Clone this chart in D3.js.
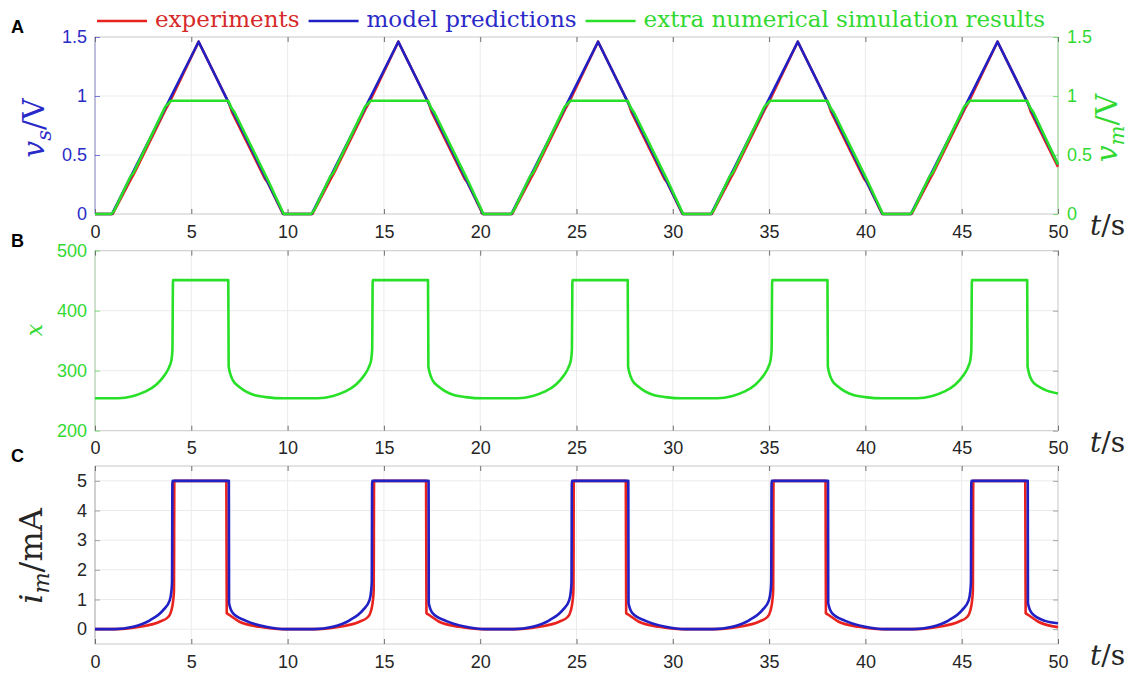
<!DOCTYPE html>
<html>
<head>
<meta charset="utf-8">
<script src="https://cdn.jsdelivr.net/npm/d3@7"></script>
<style>
  body { margin: 0; background: #fff; }
  .tick text { font-family: "Liberation Sans", Arial, sans-serif; font-size: 18px; }
</style>
</head>
<body>
<div id="chart"></div>
<script>
// ---- data ----
const tTicks = [0, 5, 10, 15, 20, 25, 30, 35, 40, 45, 50];
const vTicks = [0, 0.5, 1, 1.5];
const vTickLabels = ["0", "0.5", "1", "1.5"];
const xTicks = [200, 300, 400, 500];
const iTicks = [0, 1, 2, 3, 4, 5];

const legendLabels = ["experiments", "model predictions", "extra numerical simulation results"];

// panel A: v_s (model), v_s (experiment), v_m (simulation)  [t, volts]
const vsModel = [[0,0],[0.88,0],[5.38,1.46],[9.78,0],[11.25,0],[15.75,1.46],[20.15,0],[21.62,0],[26.12,1.46],
  [30.52,0],[31.99,0],[36.49,1.46],[40.89,0],[42.36,0],[46.86,1.46],[50,0.42]];

const vsExp = [[0,0],[0.92,0],[1.88,0.30],[2.02,0.34],[3.68,0.89],[3.85,0.94],[5.38,1.46],[6.98,0.93],[7.12,0.86],[8.82,0.30],[8.96,0.27],[9.76,0],
  [11.29,0],[12.25,0.30],[12.39,0.34],[14.05,0.89],[14.22,0.94],[15.75,1.46],[17.35,0.93],[17.49,0.86],[19.19,0.30],[19.33,0.27],[20.13,0],
  [21.66,0],[22.62,0.30],[22.76,0.34],[24.42,0.89],[24.59,0.94],[26.12,1.46],[27.72,0.93],[27.86,0.86],[29.56,0.30],[29.70,0.27],[30.50,0],
  [32.03,0],[32.99,0.30],[33.13,0.34],[34.79,0.89],[34.96,0.94],[36.49,1.46],[38.09,0.93],[38.23,0.86],[39.93,0.30],[40.07,0.27],[40.87,0],
  [42.40,0],[43.36,0.30],[43.50,0.34],[45.16,0.89],[45.33,0.94],[46.86,1.46],[48.46,0.93],[48.60,0.86],[50,0.40]];

const vmSim = [[0,0],[0.85,0],[1.0,0.03],[1.85,0.32],[2.0,0.35],[3.65,0.91],[3.95,0.96],[6.92,0.96],[7.08,0.90],[7.25,0.86],[8.85,0.33],[9.0,0.28],[9.8,0],
  [11.22,0],[11.37,0.03],[12.22,0.32],[12.37,0.35],[14.02,0.91],[14.32,0.96],[17.29,0.96],[17.45,0.90],[17.62,0.86],[19.22,0.33],[19.37,0.28],[20.17,0],
  [21.59,0],[21.74,0.03],[22.59,0.32],[22.74,0.35],[24.39,0.91],[24.69,0.96],[27.66,0.96],[27.82,0.90],[27.99,0.86],[29.59,0.33],[29.74,0.28],[30.54,0],
  [31.96,0],[32.11,0.03],[32.96,0.32],[33.11,0.35],[34.76,0.91],[35.06,0.96],[38.03,0.96],[38.19,0.90],[38.36,0.86],[39.96,0.33],[40.11,0.28],[40.91,0],
  [42.33,0],[42.48,0.03],[43.33,0.32],[43.48,0.35],[45.13,0.91],[45.43,0.96],[48.40,0.96],[48.56,0.90],[48.73,0.86],[50,0.42]];

// panel B: state variable x
const xState = [[0,254],[1.2,254],[2.0,258],[2.6,265],[3.19,277],[3.6,292],[3.85,306],[3.97,318],[4.02,335],[4.05,451],[6.92,451],[6.94,307],[7.16,284],[7.5,273],[7.85,265],[8.3,259],[8.88,256],[9.75,254],
  [11.57,254],[12.37,258],[12.97,265],[13.56,277],[13.97,292],[14.22,306],[14.34,318],[14.39,335],[14.42,451],[17.29,451],[17.31,307],[17.53,284],[17.87,273],[18.22,265],[18.67,259],[19.25,256],[20.12,254],
  [21.94,254],[22.74,258],[23.34,265],[23.93,277],[24.34,292],[24.59,306],[24.71,318],[24.76,335],[24.79,451],[27.66,451],[27.68,307],[27.90,284],[28.24,273],[28.59,265],[29.04,259],[29.62,256],[30.49,254],
  [32.31,254],[33.11,258],[33.71,265],[34.30,277],[34.71,292],[34.96,306],[35.08,318],[35.13,335],[35.16,451],[38.03,451],[38.05,307],[38.27,284],[38.61,273],[38.96,265],[39.41,259],[39.99,256],[40.86,254],
  [42.68,254],[43.48,258],[44.08,265],[44.67,277],[45.08,292],[45.33,306],[45.45,318],[45.50,335],[45.53,451],[48.40,451],[48.42,307],[48.64,284],[48.98,274],[49.33,268],[50,262]];

// panel C: current i_m (mA)
const imModel = [[0,0],[1.0,0],[1.98,0.08],[2.85,0.3],[3.54,0.64],[3.88,0.97],[3.97,1.3],[4.0,1.6],[4.02,5],[6.95,5],[6.96,0.87],[7.16,0.54],[7.85,0.28],[8.88,0.08],[9.9,0],
  [11.37,0],[12.35,0.08],[13.22,0.3],[13.91,0.64],[14.25,0.97],[14.34,1.3],[14.37,1.6],[14.39,5],[17.32,5],[17.33,0.87],[17.53,0.54],[18.22,0.28],[19.25,0.08],[20.27,0],
  [21.74,0],[22.72,0.08],[23.59,0.3],[24.28,0.64],[24.62,0.97],[24.71,1.3],[24.74,1.6],[24.76,5],[27.69,5],[27.70,0.87],[27.90,0.54],[28.59,0.28],[29.62,0.08],[30.64,0],
  [32.11,0],[33.09,0.08],[33.96,0.3],[34.65,0.64],[34.99,0.97],[35.08,1.3],[35.11,1.6],[35.13,5],[38.06,5],[38.07,0.87],[38.27,0.54],[38.96,0.28],[39.99,0.08],[41.01,0],
  [42.48,0],[43.46,0.08],[44.33,0.3],[45.02,0.64],[45.36,0.97],[45.45,1.3],[45.48,1.6],[45.50,5],[48.43,5],[48.44,0.87],[48.64,0.54],[49.33,0.28],[50,0.2]];

const imExp = [[0,0],[1.2,0],[2.33,0.08],[3.36,0.25],[3.8,0.41],[3.97,0.64],[4.06,0.97],[4.1,1.3],[4.12,5],[6.82,5],[6.84,0.54],[7.0,0.47],[7.5,0.25],[8.54,0.08],[9.75,0],
  [11.57,0],[12.70,0.08],[13.73,0.25],[14.17,0.41],[14.34,0.64],[14.43,0.97],[14.47,1.3],[14.49,5],[17.19,5],[17.21,0.54],[17.37,0.47],[17.87,0.25],[18.91,0.08],[20.12,0],
  [21.94,0],[23.07,0.08],[24.10,0.25],[24.54,0.41],[24.71,0.64],[24.80,0.97],[24.84,1.3],[24.86,5],[27.56,5],[27.58,0.54],[27.74,0.47],[28.24,0.25],[29.28,0.08],[30.49,0],
  [32.31,0],[33.44,0.08],[34.47,0.25],[34.91,0.41],[35.08,0.64],[35.17,0.97],[35.21,1.3],[35.23,5],[37.93,5],[37.95,0.54],[38.11,0.47],[38.61,0.25],[39.65,0.08],[40.86,0],
  [42.68,0],[43.81,0.08],[44.84,0.25],[45.28,0.41],[45.45,0.64],[45.54,0.97],[45.58,1.3],[45.60,5],[48.30,5],[48.32,0.54],[48.48,0.47],[48.98,0.25],[50,0.07]];

// ---- colours ----
const red = "#e8231f", blue = "#2020c4", green = "#28e028";
const redTxt = "#d62a2a", blueTxt = "#2a2ac8", greenTxt = "#33d933";
const serif = "'DejaVu Serif', serif";

const width = 1132, height = 674;
const svg = d3.select("#chart").append("svg")
    .attr("width", width)
    .attr("height", height);

const x = d3.scaleLinear().domain([0, 50]).range([95, 1058]);

const panels = [
  { name: "A", y: d3.scaleLinear().domain([0, 1.5]).range([214, 37]), ticks: vTicks,
    fmt: (d, i) => vTickLabels[i], color: blueTxt, leftLine: "#9a9ad6", right: true },
  { name: "B", y: d3.scaleLinear().domain([200, 500]).range([430.7, 250.7]), ticks: xTicks,
    fmt: d => d, color: greenTxt, leftLine: "#b8dcb8", right: false },
  { name: "C", y: d3.scaleLinear().domain([-0.5, 5.5]).range([644, 466]), ticks: iTicks,
    fmt: d => d, color: "#262626", leftLine: "#bdbdbd", right: false }
];

panels.forEach(p => {
    const top = p.y.range()[1], bottom = p.y.range()[0];
    const g = svg.append("g");

    // grid
    g.append("g").selectAll("line")
        .data(tTicks.slice(1, -1))
        .enter().append("line")
        .attr("x1", d => x(d)).attr("x2", d => x(d))
        .attr("y1", top).attr("y2", bottom)
        .attr("stroke", "#ebebeb");
    g.append("g").selectAll("line")
        .data(p.ticks.filter(d => p.y(d) > top + 1 && p.y(d) < bottom - 1))
        .enter().append("line")
        .attr("x1", x(0)).attr("x2", x(50))
        .attr("y1", d => p.y(d)).attr("y2", d => p.y(d))
        .attr("stroke", "#ebebeb");

    // box
    g.append("rect")
        .attr("x", x(0)).attr("y", top)
        .attr("width", x(50) - x(0)).attr("height", bottom - top)
        .attr("fill", "none").attr("stroke", "#c8c8c8");
    g.append("line")
        .attr("x1", x(0)).attr("x2", x(0)).attr("y1", top).attr("y2", bottom)
        .attr("stroke", p.leftLine);
    if (p.right) {
        g.append("line")
            .attr("x1", x(50)).attr("x2", x(50)).attr("y1", top).attr("y2", bottom)
            .attr("stroke", "#9ee09e");
    }

    // x axes (bottom with labels, top ticks only)
    g.append("g")
        .attr("transform", `translate(0,${bottom})`)
        .call(d3.axisBottom(x).tickValues(tTicks).tickSizeInner(-5).tickSizeOuter(0).tickPadding(11))
        .call(a => a.select(".domain").remove())
        .call(a => a.selectAll("line").attr("stroke", "#707070"))
        .call(a => a.selectAll("text").attr("fill", "#262626"));
    g.append("g")
        .attr("transform", `translate(0,${top})`)
        .call(d3.axisTop(x).tickValues(tTicks).tickSizeInner(-5).tickSizeOuter(0).tickFormat(""))
        .call(a => a.select(".domain").remove())
        .call(a => a.selectAll("line").attr("stroke", "#707070"));

    // y axes
    g.append("g")
        .attr("transform", `translate(${x(0)},0)`)
        .call(d3.axisLeft(p.y).tickValues(p.ticks).tickFormat(p.fmt).tickSizeInner(-5).tickSizeOuter(0).tickPadding(8))
        .call(a => a.select(".domain").remove())
        .call(a => a.selectAll("line").attr("stroke", p.name === "C" ? "#707070" : p.color).attr("opacity", 0.6))
        .call(a => a.selectAll("text").attr("fill", p.color));
    g.append("g")
        .attr("transform", `translate(${x(50)},0)`)
        .call(d3.axisRight(p.y).tickValues(p.ticks).tickFormat(p.right ? p.fmt : "")
            .tickSizeInner(-5).tickSizeOuter(0).tickPadding(9))
        .call(a => a.select(".domain").remove())
        .call(a => a.selectAll("line").attr("stroke", p.right ? greenTxt : "#707070").attr("opacity", 0.6))
        .call(a => a.selectAll("text").attr("fill", greenTxt));

    // clip
    svg.append("clipPath").attr("id", "clip" + p.name)
      .append("rect")
        .attr("x", x(0)).attr("y", top - 2)
        .attr("width", x(50) - x(0) + 1).attr("height", bottom - top + 4);

    // panel letter
    svg.append("text")
        .attr("x", 11).attr("y", top - 4)
        .style("font-family", "'Liberation Sans', Arial, sans-serif")
        .style("font-weight", "bold")
        .style("font-size", "18px")
        .text(p.name);

    // t/s label
    const tl = svg.append("text")
        .attr("x", 1090).attr("y", bottom + 21)
        .style("font-family", serif).style("font-size", "28px")
        .attr("fill", "#262626");
    tl.append("tspan").style("font-style", "italic").text("t");
    tl.append("tspan").text("/s");
});

const pA = panels[0], pB = panels[1], pC = panels[2];

function drawLine(p, data, color, curve) {
    const line = d3.line()
        .x(d => x(d[0]))
        .y(d => p.y(d[1]))
        .curve(curve || d3.curveLinear);
    svg.append("path")
        .datum(data)
        .attr("clip-path", `url(#clip${p.name})`)
        .attr("fill", "none")
        .attr("stroke", color)
        .attr("stroke-width", 2.6)
        .attr("stroke-linejoin", "round")
        .attr("d", line);
}

drawLine(pA, vsExp, red);
drawLine(pA, vsModel, blue);
drawLine(pA, vmSim, green);
drawLine(pB, xState, green, d3.curveMonotoneX);
drawLine(pC, imExp, red, d3.curveMonotoneX);
drawLine(pC, imModel, blue, d3.curveMonotoneX);

// y labels
function mathLabel(cx, cy, size, color, main, sub, unit) {
    const t = svg.append("text")
        .attr("transform", `translate(${cx},${cy}) rotate(-90)`)
        .attr("text-anchor", "middle")
        .style("font-family", serif)
        .style("font-size", size + "px")
        .attr("fill", color);
    t.append("tspan").style("font-style", "italic").text(main);
    if (sub) {
        t.append("tspan").style("font-style", "italic").style("font-size", (size * 0.7) + "px")
            .attr("dy", size * 0.22).text(sub);
    }
    if (unit) {
        t.append("tspan").attr("dy", sub ? -size * 0.22 : 0).text(unit);
    }
}
mathLabel(44, 128, 30, blueTxt, "v", "s", "/V");
mathLabel(1117, 128, 30, greenTxt, "v", "m", "/V");
mathLabel(42, 330, 22, greenTxt, "x", null, null);
mathLabel(42, 556, 32, "#262626", "i", "m", "/mA");

// legend
const legendColors = [[red, redTxt], [blue, blueTxt], [green, greenTxt]];
let lx = 97;
legendLabels.forEach((label, i) => {
    svg.append("line")
        .attr("x1", lx).attr("x2", lx + 50)
        .attr("y1", 21).attr("y2", 21)
        .attr("stroke", legendColors[i][0]).attr("stroke-width", 2.6);
    const txt = svg.append("text")
        .attr("x", lx + 58).attr("y", 27)
        .style("font-family", serif).style("font-size", "23px")
        .attr("fill", legendColors[i][1])
        .text(label);
    lx += 58 + txt.node().getComputedTextLength() + 9;
});
</script>
</body>
</html>
